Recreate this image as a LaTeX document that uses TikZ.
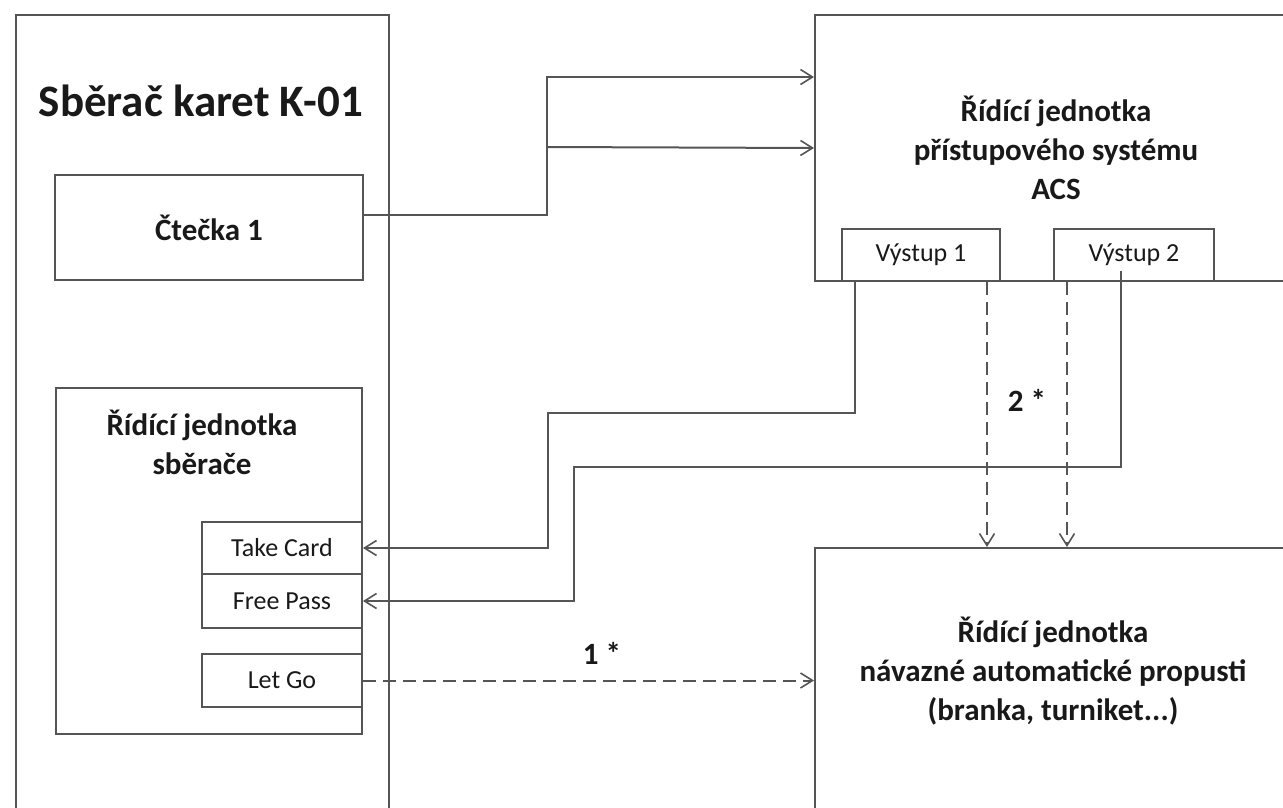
\documentclass[tikz,border=0pt]{standalone}
\usepackage{fontspec}
\setmainfont{Carlito}
\usetikzlibrary{positioning,calc,arrows.meta}
\definecolor{LineGray}{RGB}{85,85,85}
\definecolor{TextBlack}{RGB}{25,25,25}
\tikzset{
  box/.style={draw=LineGray,line width=2pt,rectangle,inner sep=0pt,anchor=north west},
  port/.style={box,font=\fontsize{26}{30}\selectfont,text=TextBlack},
  head/.style={font=\bfseries\fontsize{31}{39}\selectfont,align=center,text=TextBlack},
  wire/.style={draw=LineGray,line width=2pt,-{Straight Barb[length=12pt,width=15pt,line width=1.6pt]}},
  dwire/.style={wire,dash pattern=on 13pt off 7pt},
}

\begin{document}
\begin{tikzpicture}[x=1pt,y=-1pt]
\useasboundingbox (0,0) rectangle (1283,807);
\clip (0,0) rectangle (1283,807);
% card collector
\node[box,minimum width=373pt,minimum height=830pt] (sberac) at (15,14) {};
\node[head,font=\bfseries\fontsize{45}{50}\selectfont] (sberacText) at (201,101) {Sběrač karet K-01};
\node[box,head,minimum width=308pt,minimum height=105pt] (ctecka) at (54,174) {Čtečka 1};
\node[box,minimum width=306pt,minimum height=346pt] (ridSb) at (55,387) {};
\node[head] (ridSbText) at (202,442) {Řídící jednotka\\sběrače};
\node[port,minimum width=160pt,minimum height=52pt] (take) at (201,521) {Take Card};
\node[port,minimum width=160pt,minimum height=54pt] (free) at (201,573) {Free Pass};
\node[port,minimum width=160pt,minimum height=53pt] (letgo) at (201,653) {Let Go};
% access control
\node[box,head,minimum width=482pt,minimum height=266pt] (acs) at (814,14) {Řídící jednotka\\přístupového systému\\ACS};
\node[port,fill=white,minimum width=158pt,minimum height=52pt] (vys1) at (841,228) {Výstup 1};
\node[port,fill=white,minimum width=160pt,minimum height=52pt] (vys2) at (1053,228) {Výstup 2};
% gate
\node[box,minimum width=520pt,minimum height=300pt] (prop) at (814,547) {};
\node[head] (propText) at (1053,671) {Řídící jednotka\\návazné automatické propusti\\(branka, turniket...)};
% wires
\coordinate (split) at (547,147);
\draw[wire] ([yshift=13pt]ctecka.east) -| (split) |- ([yshift=-63pt]acs.north west);
\draw[wire] (split) -- (acs.west);
\draw[wire] ([xshift=14pt]vys1.south west) |- (548,413) |- (take.east);
\draw[wire] ([xshift=68pt,yshift=11pt]vys2.south west) |- (574,467) |- (free.east);
\coordinate (o1) at ([xshift=146pt]vys1.south west);
\coordinate (o2) at ([xshift=14pt]vys2.south west);
\draw[dwire] (o1) -- (o1 |- prop.north);
\draw[dwire] (o2) -- (o2 |- prop.north);
\draw[dwire] (letgo.east) -- (letgo.east -| prop.west);
\node[head] (lab2) at (1027,400) {2 *};
\node[head] (lab1) at (602,653) {1 *};
\end{tikzpicture}
\end{document}
